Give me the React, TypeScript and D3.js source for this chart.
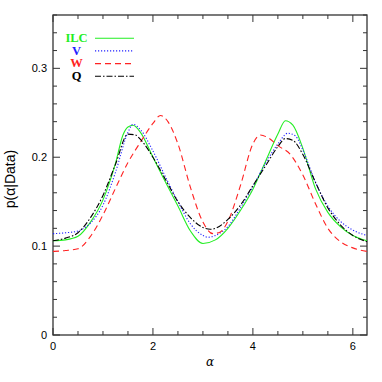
import * as d3 from 'd3';
import React, { useRef, useEffect } from 'react';

// values
const xILC = [0, 0.25, 0.5, 0.75, 1.0, 1.25, 1.4, 1.5, 1.6, 1.75, 2.0, 2.25, 2.5, 2.75, 3.0, 3.25, 3.5, 3.75, 4.0, 4.25, 4.5, 4.65, 4.8, 5.0, 5.25, 5.5, 5.75, 6.0, 6.283];
const yILC = [0.106, 0.107, 0.111, 0.127, 0.152, 0.193, 0.225, 0.234, 0.236, 0.228, 0.200, 0.172, 0.145, 0.117, 0.103, 0.107, 0.120, 0.140, 0.164, 0.195, 0.226, 0.241, 0.236, 0.210, 0.165, 0.138, 0.122, 0.112, 0.106];

const xV = [0, 0.25, 0.5, 0.75, 1.0, 1.25, 1.5, 1.6, 1.75, 2.0, 2.25, 2.5, 2.75, 3.0, 3.1, 3.25, 3.5, 3.75, 4.0, 4.25, 4.5, 4.7, 4.85, 5.0, 5.25, 5.5, 5.75, 6.0, 6.283];
const yV = [0.114, 0.115, 0.117, 0.126, 0.146, 0.183, 0.228, 0.237, 0.231, 0.207, 0.178, 0.150, 0.125, 0.112, 0.110, 0.112, 0.122, 0.143, 0.167, 0.193, 0.215, 0.227, 0.224, 0.208, 0.172, 0.145, 0.128, 0.118, 0.112];

const xW = [0, 0.25, 0.5, 0.75, 1.0, 1.25, 1.5, 1.75, 2.0, 2.15, 2.3, 2.5, 2.75, 3.0, 3.2, 3.35, 3.5, 3.75, 4.0, 4.15, 4.3, 4.5, 4.75, 5.0, 5.25, 5.5, 5.75, 6.0, 6.283];
const yW = [0.094, 0.095, 0.097, 0.111, 0.135, 0.165, 0.194, 0.217, 0.238, 0.247, 0.240, 0.215, 0.166, 0.127, 0.114, 0.116, 0.128, 0.168, 0.215, 0.225, 0.222, 0.213, 0.203, 0.180, 0.148, 0.120, 0.105, 0.098, 0.094];

const xQ = [0, 0.25, 0.5, 0.75, 1.0, 1.25, 1.5, 1.65, 1.75, 2.0, 2.25, 2.5, 2.75, 3.0, 3.15, 3.25, 3.5, 3.75, 4.0, 4.25, 4.5, 4.65, 4.8, 5.0, 5.25, 5.5, 5.75, 6.0, 6.283];
const yQ = [0.106, 0.109, 0.115, 0.132, 0.157, 0.192, 0.226, 0.225, 0.220, 0.200, 0.175, 0.150, 0.132, 0.121, 0.119, 0.120, 0.130, 0.146, 0.168, 0.190, 0.212, 0.221, 0.219, 0.203, 0.172, 0.143, 0.124, 0.112, 0.105];

const names = ['ILC', 'V', 'W', 'Q'];
const colors = ['#22ee22', '#2222ff', '#ff2222', '#000000'];
const dashes = ['none', '1.2,1.8', '6,4', '6,2,1.5,2'];

const xMajor = [0, 2, 4, 6];
const yMajor = [0, 0.1, 0.2, 0.3];

const App = () => {
    const ref = useRef(null);

    useEffect(() => {
        const svg = d3.select(ref.current);
        svg.selectAll('*').remove();

        const margin = { top: 15, right: 15, bottom: 47, left: 53 };
        const w = 382 - margin.left - margin.right;
        const h = 382 - margin.top - margin.bottom;

        const g = svg.append('g')
            .attr('transform', `translate(${margin.left}, ${margin.top})`);

        const xScale = d3.scaleLinear().domain([0, 2 * Math.PI]).range([0, w]);
        const yScale = d3.scaleLinear().domain([0, 0.36]).range([h, 0]);

        const frame = '#333';

        // ticks on all four sides, pointing inwards
        const xMinor = d3.range(0, 6.3, 0.5);
        const yMinor = d3.range(0, 0.361, 0.02);
        xMinor.forEach(v => {
            const big = xMajor.some(m => Math.abs(m - v) < 1e-6);
            const len = big ? 7 : 4;
            g.append('line').attr('x1', xScale(v)).attr('x2', xScale(v))
                .attr('y1', h).attr('y2', h - len).attr('stroke', frame);
            g.append('line').attr('x1', xScale(v)).attr('x2', xScale(v))
                .attr('y1', 0).attr('y2', len).attr('stroke', frame);
        });
        yMinor.forEach(v => {
            const big = yMajor.some(m => Math.abs(m - v) < 1e-6);
            const len = big ? 7 : 4;
            g.append('line').attr('y1', yScale(v)).attr('y2', yScale(v))
                .attr('x1', 0).attr('x2', len).attr('stroke', frame);
            g.append('line').attr('y1', yScale(v)).attr('y2', yScale(v))
                .attr('x1', w).attr('x2', w - len).attr('stroke', frame);
        });

        g.append('rect').attr('x', 0).attr('y', 0).attr('width', w).attr('height', h)
            .attr('fill', 'none').attr('stroke', frame).attr('stroke-width', 1.3);

        // tick labels
        g.selectAll('.xl').data(xMajor).enter().append('text')
            .attr('x', d => xScale(d)).attr('y', h + 15)
            .attr('text-anchor', 'middle')
            .attr('font-family', 'Liberation Sans, Arial, sans-serif').attr('font-size', 11)
            .text(d => d);
        g.selectAll('.yl').data(yMajor).enter().append('text')
            .attr('x', -6).attr('y', d => yScale(d) + 4)
            .attr('text-anchor', 'end')
            .attr('font-family', 'Liberation Sans, Arial, sans-serif').attr('font-size', 11)
            .text(d => d === 0 ? '0' : d3.format('.1f')(d));

        // axis titles
        g.append('text').attr('x', w / 2).attr('y', h + 31)
            .attr('text-anchor', 'middle').attr('font-style', 'italic')
            .attr('font-family', 'DejaVu Serif, serif').attr('font-size', 12)
            .text('α');
        g.append('text')
            .attr('transform', `translate(${-38}, ${h / 2 + 4}) rotate(-90)`)
            .attr('text-anchor', 'middle')
            .attr('font-family', 'Liberation Sans, Arial, sans-serif').attr('font-size', 14)
            .text('p(α|Data)');

        // curves
        const series = [[xILC, yILC], [xV, yV], [xW, yW], [xQ, yQ]];
        const line = d3.line()
            .x(d => xScale(d[0]))
            .y(d => yScale(d[1]))
            .curve(d3.curveMonotoneX);

        series.forEach(([xs, ys], i) => {
            const pts = xs.map((x, j) => [x, ys[j]]);
            g.append('path').datum(pts)
                .attr('d', line)
                .attr('fill', 'none')
                .attr('stroke', colors[i])
                .attr('stroke-width', 1.1)
                .attr('stroke-dasharray', dashes[i]);
        });

        // legend
        const leg = g.append('g');
        names.forEach((n, i) => {
            const yy = 27 + i * 12.7;
            leg.append('text').attr('x', 23.5).attr('y', yy)
                .attr('text-anchor', 'middle')
                .attr('font-family', 'Liberation Serif, Times New Roman, serif')
                .attr('font-size', 12.5)
                .attr('font-weight', 'bold')
                .attr('fill', colors[i])
                .text(n);
            leg.append('line').attr('x1', 42).attr('x2', 81)
                .attr('y1', yy - 3.8).attr('y2', yy - 3.8)
                .attr('stroke', colors[i]).attr('stroke-width', 1.1)
                .attr('stroke-dasharray', dashes[i]);
        });
    }, []);

    return (
        <svg ref={ref} width={382} height={382}
            style={{ position: 'absolute', left: 0, top: 0, background: '#fff' }}>
        </svg>
    );
};

export default App;
